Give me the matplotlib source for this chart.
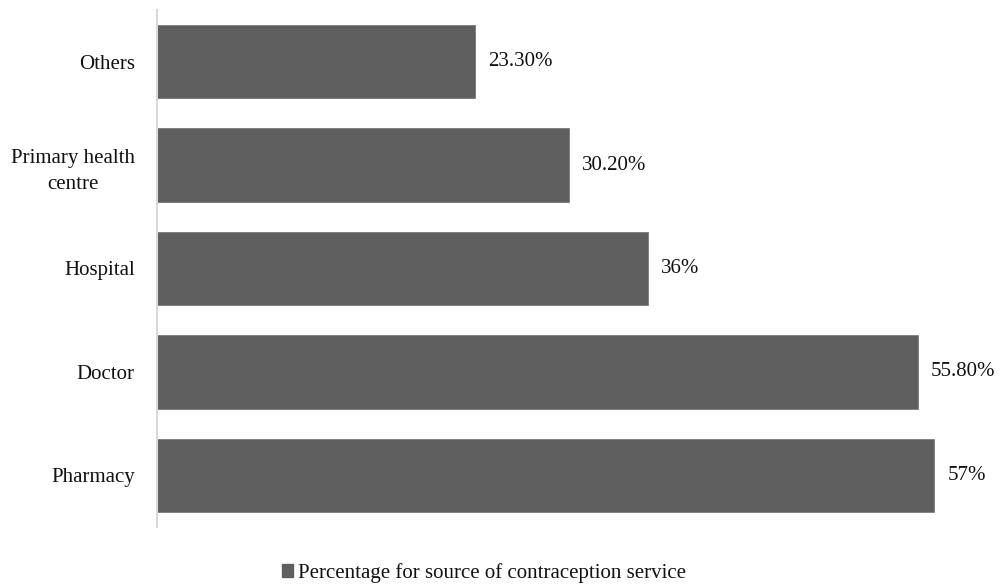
import matplotlib
matplotlib.use("Agg")
import matplotlib.pyplot as plt
from matplotlib.patches import Patch

categories = ["Pharmacy", "Doctor", "Hospital", "Primary health\ncentre", "Others"]
values = [57, 55.8, 36, 30.2, 23.3]
labels = ["57%", "55.80%", "36%", "30.20%", "23.30%"]
series_name = "Percentage for source of contraception service"

plt.rcParams['font.family'] = ['Liberation Serif', 'DejaVu Serif']

fig = plt.figure(figsize=(10.08, 5.87), dpi=100)
ax = fig.add_axes([157/1008, 60/587, (975-157)/1008, (527-10)/587])

bar_color = "#5f5f5f"
ys = list(range(len(categories)))
ax.barh(ys, values, height=0.71, color=bar_color, edgecolor="#7a7a7a", linewidth=0.6)
ax.set_xlim(0, 60)
ax.set_ylim(-0.5, 4.5)

for y, v, lab in zip(ys, values, labels):
    ax.annotate(lab, (v, y), xytext=(9.5, 0), textcoords="offset points",
                ha="left", va="center", fontsize=15, color="#111111")

ax.set_yticks(ys)
ax.set_yticklabels(categories, fontsize=15, color="#111111", multialignment="center",
                   linespacing=1.55)
ax.tick_params(axis="y", length=0, pad=16)
ax.set_xticks([])
for s in ["top", "right", "bottom"]:
    ax.spines[s].set_visible(False)
ax.spines["left"].set_color("#d9d9d9")
ax.spines["left"].set_linewidth(1.5)

handle = Patch(facecolor=bar_color, edgecolor=bar_color)
fig.legend([handle], [series_name], loc="center", bbox_to_anchor=(484/1008, 1-573/587),
           frameon=False, fontsize=15, handlelength=0.53, handleheight=0.53,
           handletextpad=0.2, borderpad=0, labelcolor="#111111")

fig.savefig("out.png", dpi=100)
